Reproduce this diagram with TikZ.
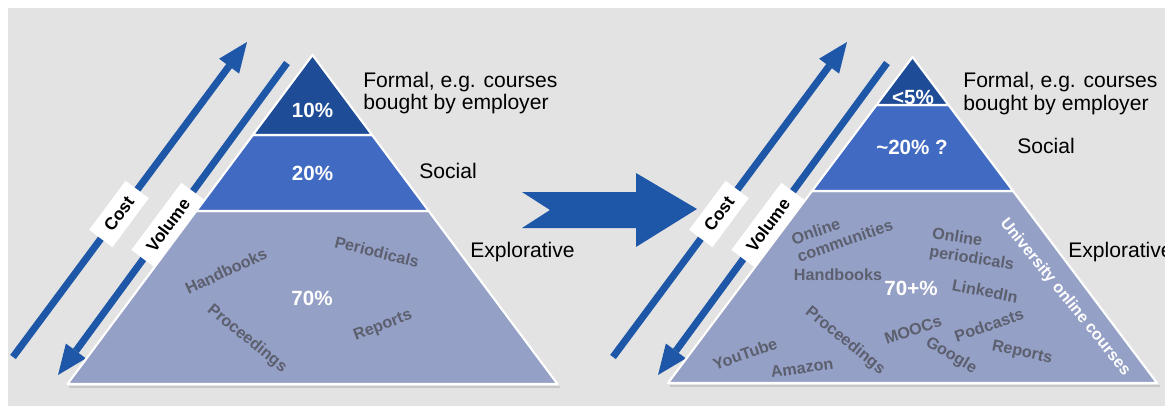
\documentclass[tikz,border=0pt]{standalone}
\usepackage{fontspec}
\setmainfont{Liberation Sans}
\usepackage{tikz}
\definecolor{bgray}{RGB}{227,227,227}
\definecolor{topblue}{RGB}{30,76,150}
\definecolor{midblue}{RGB}{65,106,194}
\definecolor{lowblue}{RGB}{149,160,198}
\definecolor{barblue}{RGB}{30,86,168}
\definecolor{wordgray}{RGB}{92,95,110}
\tikzset{
  font={\fontsize{12pt}{12.8pt}\selectfont},
  side/.style={anchor=west, align=left},
  pct/.style={text=white, font={\fontsize{11.7pt}{13pt}\selectfont\bfseries}},
  word/.style={text=wordgray, font={\fontsize{9.2pt}{10.4pt}\selectfont\bfseries}},
  tag/.style={fill=white, inner xsep=6.5pt, minimum height=16.5pt, rotate=53.4,
    font={\fontsize{9.8pt}{10pt}\selectfont\bfseries}},
  bar/.style={barblue, line width=4pt},
  layer/.style={draw=white, line width=1.2pt, line join=round}}

\begin{document}
\begin{tikzpicture}[scale=0.2]
\tikzstyle{every node}+=[inner sep=0pt]
\useasboundingbox (0,0) rectangle (116.5,-40.6);
\fill [bgray] (0.8,-0.8) rectangle (116.5,-40.6);
% left: cost and volume
\coordinate (costA0) at (1.3,-35.7);
\coordinate (costA1) at (22.91,-6.61);
\draw [bar] (costA0) -- (costA1);
\fill [barblue] (24.7,-4.2) -- (23.91,-7.36) -- (21.91,-5.87);
\coordinate (volA0) at (28.7,-6.3);
\coordinate (volA1) at (7.59,-35.09);
\draw [bar] (volA0) -- (volA1);
\fill [barblue] (5.8,-37.5) -- (8.59,-35.84) -- (6.59,-34.35);
\draw (11.9,-21.4) node [tag] (costA) {Cost};
\draw (16.8,-22.5) node [tag] (volA) {Volume};
% left pyramid
\draw [black!22, line width=1pt] (6.9,-38.72) -- (56.0,-38.72);
\filldraw [layer, fill=lowblue] (19.63,-21.1) -- (42.87,-21.1) -- (55.75,-38.4) -- (6.75,-38.4) -- cycle;
\filldraw [layer, fill=midblue] (25.29,-13.5) -- (37.21,-13.5) -- (42.87,-21.1) -- (19.63,-21.1) -- cycle;
\filldraw [layer, fill=topblue] (31.25,-5.5) -- (37.21,-13.5) -- (25.29,-13.5) -- cycle;
\draw (31.25,-11.0) node [pct] (pctA1) {10\%};
\draw (31.25,-17.3) node [pct] (pctA2) {20\%};
\draw (31.2,-29.8) node [pct] (pctA3) {70\%};
\draw (22.6,-27.1) node [word, rotate=25] (handA) {Handbooks};
\draw (37.7,-25.2) node [word, rotate=-14] (perA) {Periodicals};
\draw (24.7,-33.9) node [word, rotate=-39] (procA) {Proceedings};
\draw (38.3,-32.6) node [word, rotate=21] (repA) {Reports};
\draw (36.3,-9.3) node [side] (formalA) {Formal, e.g. courses\\bought by employer};
\draw (41.9,-17.1) node [side] (socialA) {Social};
\draw (47.0,-25.2) node [side] (exploreA) {Explorative};
% middle arrow
\fill [barblue] (52.2,-19.2) -- (63.6,-19.2) -- (63.6,-17.3) -- (69.7,-20.9) -- (63.6,-24.7)
  -- (63.6,-22.8) -- (52.2,-22.8) -- (55.0,-21.0) -- cycle;
% right: cost and volume
\coordinate (costB0) at (61.3,-35.7);
\coordinate (costB1) at (82.91,-6.61);
\draw [bar] (costB0) -- (costB1);
\fill [barblue] (84.7,-4.2) -- (83.91,-7.36) -- (81.91,-5.87);
\coordinate (volB0) at (88.7,-6.3);
\coordinate (volB1) at (67.59,-35.09);
\draw [bar] (volB0) -- (volB1);
\fill [barblue] (65.8,-37.5) -- (68.59,-35.84) -- (66.59,-34.35);
\draw (71.9,-21.4) node [tag] (costB) {Cost};
\draw (76.8,-22.5) node [tag] (volB) {Volume};
% right pyramid
\draw [black!22, line width=1pt] (66.95,-38.62) -- (115.95,-38.62);
\filldraw [layer, fill=lowblue] (81.2,-19.1) -- (101.3,-19.1) -- (115.7,-38.3) -- (66.8,-38.3) -- cycle;
\filldraw [layer, fill=midblue] (87.65,-10.5) -- (94.85,-10.5) -- (101.3,-19.1) -- (81.2,-19.1) -- cycle;
\filldraw [layer, fill=topblue] (91.25,-5.7) -- (94.85,-10.5) -- (87.65,-10.5) -- cycle;
\draw (91.3,-9.7) node [pct] (pctB1) {<5\%};
\draw (91.2,-14.7) node [pct] (pctB2) {\textasciitilde20\% ?};
\draw (91.1,-28.8) node [pct] (pctB3) {70+\%};
\draw (84.2,-23.2) node [word, rotate=19, align=left] (commB) {Online\\communities};
\draw (83.8,-27.5) node [word] (handB) {Handbooks};
\draw (97.3,-25.0) node [word, rotate=-9, align=left] (perB) {Online\\periodicals};
\draw (106.5,-29.7) node [word, text=white, rotate=-51] (univB) {University online courses};
\draw (98.5,-29.1) node [word, rotate=-11] (linkB) {LinkedIn};
\draw (91.3,-33.0) node [word, rotate=19] (moocB) {MOOCs};
\draw (98.9,-32.5) node [word, rotate=19] (podB) {Podcasts};
\draw (95.1,-35.6) node [word, rotate=-30] (googB) {Google};
\draw (102.2,-35.3) node [word, rotate=-12] (repB) {Reports};
\draw (84.5,-34.1) node [word, rotate=-39] (procB) {Proceedings};
\draw (74.5,-35.4) node [word, rotate=19] (ytB) {YouTube};
\draw (80.2,-36.8) node [word, rotate=8] (amzB) {Amazon};
\draw (96.3,-9.35) node [side] (formalB) {Formal, e.g. courses\\bought by employer};
\draw (101.7,-14.6) node [side] (socialB) {Social};
\draw (106.8,-25.2) node [side] (exploreB) {Explorative};
\end{tikzpicture}
\end{document}
